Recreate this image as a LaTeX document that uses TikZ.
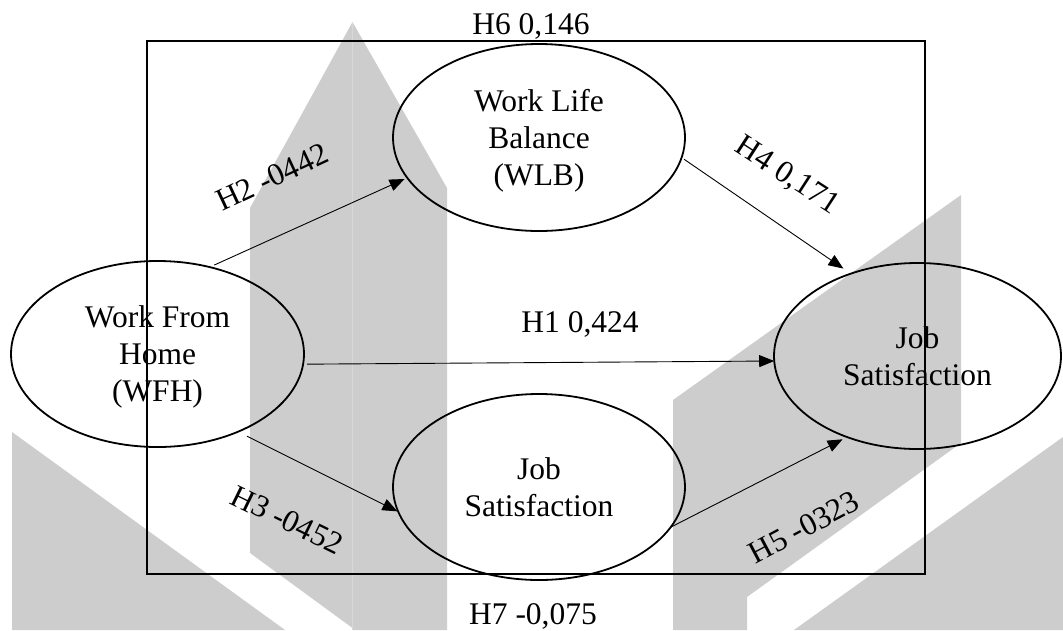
\documentclass[tikz,border=0pt]{standalone}
\usepackage{fontspec}
\setmainfont{Liberation Serif}
\usetikzlibrary{arrows.meta,shapes.geometric}
\definecolor{wmgray}{RGB}{205,205,205}
\definecolor{wmseam}{RGB}{216,216,216}
% strut that lowers the first line of a three-line label
\newcommand{\topstrut}{\rule{0pt}{28.5pt}}
\begin{document}
\begin{tikzpicture}[x=1pt,y=-1pt,
  construct/.style={draw, ellipse, line width=1.8pt, minimum width=293pt,
    minimum height=186pt, inner sep=0pt, outer sep=0pt, align=center,
    font=\fontsize{31.5}{37}\selectfont},
  link/.style={-{Triangle[length=15pt,width=12pt]}, line width=0.9pt},
  coef/.style={font=\fontsize{31.5}{37}\selectfont, inner sep=0pt},
  framebox/.style={draw, line width=2pt, minimum width=778pt,
    minimum height=533pt, inner sep=0pt, outer sep=0pt}]
\useasboundingbox (0,0) rectangle (1063,630);

% background emblem
\fill[wmgray] (250,553) -- (250,208) -- (352.5,22) -- (352.5,628) -- cycle;
\fill[wmgray] (352.5,22) -- (447,188) -- (447,630) -- (352.5,630) -- cycle;
\draw[wmseam, line width=0.8pt] (352.5,32) -- (352.5,630);
\fill[wmgray] (12,432) -- (285,630) -- (12,630) -- cycle;
\fill[wmgray] (673,630) -- (673,400) -- (961,195) -- (961,443) -- (747,597) -- (747,630) -- cycle;
\fill[wmgray] (794,630) -- (1063,437) -- (1063,630) -- cycle;

% outer frame
\node[framebox] (frame) at (536,307) {};

% constructs
\node[construct] (wfh) at (157.5,354) {\topstrut Work From\\Home\\(WFH)};
\node[construct, minimum width=292pt, minimum height=187pt] (wlb) at (539,137.5) {\topstrut Work Life\\Balance\\(WLB)};
\node[construct, minimum width=292pt] (jsm) at (539,487) {Job\\Satisfaction};
\node[construct, minimum width=287pt] (jsr) at (917.5,356) {Job\\Satisfaction};

% paths
\draw[link, shorten <=5pt, shorten >=3pt] (wfh.59) -- (wlb.197);
\draw[link, shorten <=10pt, shorten >=1pt] (wfh.316) -- (jsm.190);
\draw[link, shorten <=4pt] (wfh.356) -- (jsr.182);
\draw[link, shorten <=3pt, shorten >=9pt] (wlb.352) -- (jsr.129);
\draw[link, shorten >=5pt] (jsm.343) -- (jsr.229);

% coefficients
\node[coef] (h6) at (531,26.5) {H6 0,146};
\node[coef] (h7) at (533,616) {H7 -0,075};
\node[coef] (h1) at (580,324.5) {H1 0,424};
\node[coef, rotate=25] (h2) at (272,177) {H2 -0442};
\node[coef, rotate=-26] (h3) at (287,520) {H3 -0452};
\node[coef, rotate=-33] (h4) at (787,176) {H4 0,171};
\node[coef, rotate=28] (h5) at (804,527) {H5 -0323};
\end{tikzpicture}
\end{document}
